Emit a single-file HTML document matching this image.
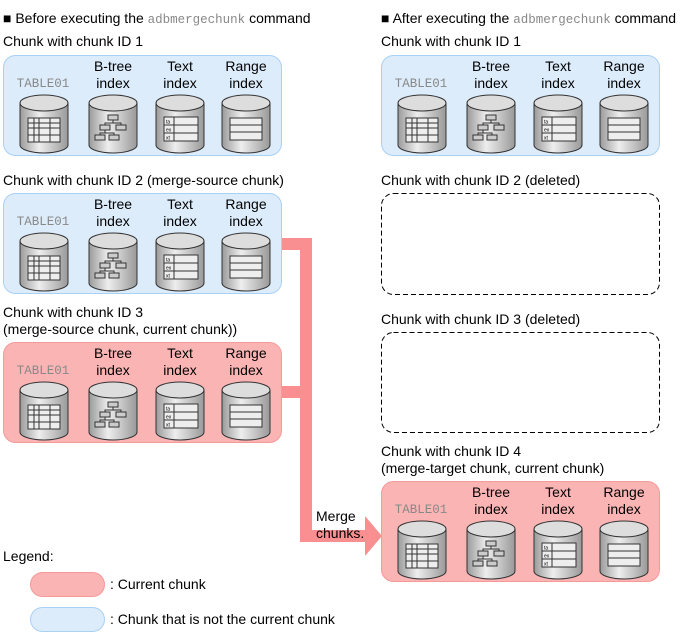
<!DOCTYPE html>
<html><head><meta charset="utf-8"><style>
body{margin:0;background:#fff}
svg{display:block;font-family:"Liberation Sans",sans-serif;font-size:14px}
.m{font-family:"Liberation Mono",monospace;fill:#888;font-size:12.5px}
.c{text-anchor:middle}
</style></head><body>
<svg width="692" height="636" viewBox="0 0 692 636">
<defs>
<linearGradient id="g" x1="0" x2="1"><stop offset="0" stop-color="#9a9a9a"/><stop offset=".4" stop-color="#eee"/><stop offset="1" stop-color="#999"/></linearGradient>
<g id="cyl"><path d="M0,8 v42 a24,8 0 0 0 48,0 v-42" fill="url(#g)" stroke="#333"/><ellipse cx="24" cy="8" rx="24" ry="8" fill="#ddd" stroke="#333"/></g>
<g id="c1"><use href="#cyl"/><rect x="8" y="23" width="32" height="24" fill="#eee" stroke="#333"/><path d="M8,28h32M8,33h32M8,40h32M14,23v24M19,23v24M30,23v24" stroke="#333" fill="none"/></g>
<g id="c2"><use href="#cyl"/><g fill="#ccc" stroke="#333"><rect x="19" y="20" width="10" height="5"/><rect x="11" y="30" width="10" height="5"/><rect x="27" y="30" width="10" height="5"/><rect x="6" y="40" width="10" height="5"/><rect x="20" y="40" width="10" height="5"/></g><path d="M24,25v3h-8v2M24,28h8v2M16,35v3h-5v2M16,38h9v2" stroke="#333" fill="none"/></g>
<g id="c3"><use href="#cyl"/><rect x="8" y="22" width="34" height="24" fill="#eee" stroke="#333"/><path d="M8,30h34M8,38h34M18,22v24" stroke="#333"/><text x="10" y="28.5" font-size="5">ta</text><text x="10" y="36.5" font-size="5">ex</text><text x="10" y="44.5" font-size="5">xt</text></g>
<g id="c4"><use href="#cyl"/><rect x="8" y="23" width="32" height="22" fill="#eee" stroke="#333"/><path d="M8,30h32M8,37h32" stroke="#333"/></g>
</defs>

<text x="3" y="23">■ Before executing the <tspan class="m" fill="#555">adbmergechunk</tspan> command</text>
<text x="381" y="23">■ After executing the <tspan class="m" fill="#555">adbmergechunk</tspan> command</text>

<text x="3" y="46">Chunk with chunk ID 1</text>
<text x="3" y="185">Chunk with chunk ID 2 (merge-source chunk)</text>
<text x="3" y="317">Chunk with chunk ID 3</text>
<text x="3" y="334">(merge-source chunk, current chunk))</text>
<text x="381" y="46">Chunk with chunk ID 1</text>
<text x="381" y="185">Chunk with chunk ID 2 (deleted)</text>
<text x="381" y="324">Chunk with chunk ID 3 (deleted)</text>
<text x="381" y="456">Chunk with chunk ID 4</text>
<text x="381" y="473">(merge-target chunk, current chunk)</text>

<rect x="381.5" y="193.5" width="278" height="101" rx="12" fill="none" stroke="#000" stroke-dasharray="5,3"/>
<rect x="381.5" y="332.5" width="278" height="100" rx="12" fill="none" stroke="#000" stroke-dasharray="5,3"/>

<path d="M281,238 H312 V530 H365 V516 L382,536 L365,556 V542 H300 V398 H281 V386 H300 V250 H281 Z" fill="#f98f90"/>
<text x="316" y="521">Merge</text>
<text x="316" y="538">chunks.</text>

<g transform="translate(3,55)">
<rect x=".5" y=".5" width="278" height="100" rx="12" fill="#dcecfb" stroke="#a9d0f5"/>
<text class="c" x="110" y="16">B-tree</text><text class="c" x="110" y="33">index</text>
<text class="c" x="177" y="16">Text</text><text class="c" x="177" y="33">index</text>
<text class="c" x="243" y="16">Range</text><text class="c" x="243" y="33">index</text>
<text class="m c" x="40" y="32">TABLE01</text>
<use href="#c1" x="17" y="40"/><use href="#c2" x="86" y="40"/><use href="#c3" x="153" y="40"/><use href="#c4" x="219" y="40"/>
</g>
<g transform="translate(3,193)">
<rect x=".5" y=".5" width="278" height="100" rx="12" fill="#dcecfb" stroke="#a9d0f5"/>
<text class="c" x="110" y="16">B-tree</text><text class="c" x="110" y="33">index</text>
<text class="c" x="177" y="16">Text</text><text class="c" x="177" y="33">index</text>
<text class="c" x="243" y="16">Range</text><text class="c" x="243" y="33">index</text>
<text class="m c" x="40" y="32">TABLE01</text>
<use href="#c1" x="17" y="40"/><use href="#c2" x="86" y="40"/><use href="#c3" x="153" y="40"/><use href="#c4" x="219" y="40"/>
</g>
<g transform="translate(3,342)">
<rect x=".5" y=".5" width="278" height="100" rx="12" fill="#fbb4b4" stroke="#f59999"/>
<text class="c" x="110" y="16">B-tree</text><text class="c" x="110" y="33">index</text>
<text class="c" x="177" y="16">Text</text><text class="c" x="177" y="33">index</text>
<text class="c" x="243" y="16">Range</text><text class="c" x="243" y="33">index</text>
<text class="m c" x="40" y="32">TABLE01</text>
<use href="#c1" x="17" y="40"/><use href="#c2" x="86" y="40"/><use href="#c3" x="153" y="40"/><use href="#c4" x="219" y="40"/>
</g>
<g transform="translate(381,55)">
<rect x=".5" y=".5" width="278" height="100" rx="12" fill="#dcecfb" stroke="#a9d0f5"/>
<text class="c" x="110" y="16">B-tree</text><text class="c" x="110" y="33">index</text>
<text class="c" x="177" y="16">Text</text><text class="c" x="177" y="33">index</text>
<text class="c" x="243" y="16">Range</text><text class="c" x="243" y="33">index</text>
<text class="m c" x="40" y="32">TABLE01</text>
<use href="#c1" x="17" y="40"/><use href="#c2" x="86" y="40"/><use href="#c3" x="153" y="40"/><use href="#c4" x="219" y="40"/>
</g>
<g transform="translate(381,481)">
<rect x=".5" y=".5" width="278" height="100" rx="12" fill="#fbb4b4" stroke="#f59999"/>
<text class="c" x="110" y="16">B-tree</text><text class="c" x="110" y="33">index</text>
<text class="c" x="177" y="16">Text</text><text class="c" x="177" y="33">index</text>
<text class="c" x="243" y="16">Range</text><text class="c" x="243" y="33">index</text>
<text class="m c" x="40" y="32">TABLE01</text>
<use href="#c1" x="17" y="40"/><use href="#c2" x="86" y="40"/><use href="#c3" x="153" y="40"/><use href="#c4" x="219" y="40"/>
</g>

<text x="3" y="561">Legend:</text>
<rect x="30.5" y="572.5" width="74" height="24" rx="12" fill="#fbb4b4" stroke="#f59999"/>
<text x="110" y="589">: Current chunk</text>
<rect x="30.5" y="607.5" width="74" height="24" rx="12" fill="#dcecfb" stroke="#a9d0f5"/>
<text x="110" y="624">: Chunk that is not the current chunk</text>
</svg>
</body></html>
